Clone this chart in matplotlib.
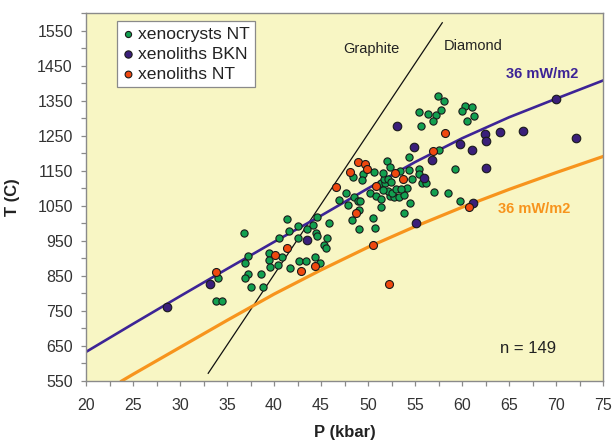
import matplotlib
matplotlib.use("Agg")
import matplotlib.pyplot as plt
from matplotlib.ticker import MultipleLocator

plt.rcParams['font.family'] = ['Liberation Sans', 'DejaVu Sans']

# ---- data (P in kbar, T in C) ----
green_P = [33.8, 34.5, 34.0, 36.8, 37.2, 36.9, 37.2, 36.9, 38.6, 37.5, 38.8,
           41.4, 42.6, 41.6, 40.5, 39.5, 39.5, 39.6, 40.4, 40.9, 41.7, 42.7,
           43.4, 44.4, 44.9, 42.5, 43.5, 44.2, 44.6, 44.5, 44.6, 45.9, 45.6,
           45.3, 45.5, 46.9, 47.7, 47.9, 48.5, 48.9, 49.2, 48.3, 49.0, 49.0,
           50.2, 50.8, 51.4, 50.5, 50.7, 51.4, 52.3, 52.8, 53.3, 53.8, 52.1,
           52.6, 53.0, 54.1, 51.4, 51.8, 51.7, 52.1, 51.6, 50.6, 49.5, 48.4,
           49.4, 52.0, 52.3, 53.4, 54.4, 55.4, 55.4, 54.7, 55.7, 56.2, 54.4,
           57.5, 59.3, 57.0, 58.5, 59.8, 54.5, 53.8, 57.4, 58.1, 55.4, 56.4,
           57.2, 57.8, 56.9, 55.6, 60.3, 61.1, 60.0, 61.3, 60.5, 51.6, 53.5,
           52.4]
green_T = [778, 777, 843, 972, 907, 888, 855, 845, 856, 817, 819,
           1012, 993, 978, 957, 916, 895, 875, 880, 903, 872, 892,
           892, 904, 886, 959, 983, 995, 1017, 974, 964, 1000, 959,
           937, 929, 1066, 1088, 1052, 1074, 1064, 1064, 1011, 984, 1039,
           1086, 1079, 1071, 1016, 987, 1047, 1078, 1074, 1074, 1080, 1093,
           1086, 1099, 1101, 1116, 1116, 1128, 1128, 1143, 1146, 1140, 1133,
           1123, 1179, 1161, 1150, 1152, 1154, 1141, 1126, 1116, 1116, 1190,
           1211, 1154, 1090, 1086, 1064, 1058, 1031, 1364, 1349, 1317, 1312,
           1309, 1325, 1292, 1278, 1335, 1333, 1321, 1306, 1291, 1096, 1099,
           1118]

purple_P = [28.6, 33.2, 43.5, 53.1, 54.9, 56.8, 56.0, 55.1, 59.8, 61.1,
            62.4, 62.6, 64.0, 66.5, 70.0, 72.1, 62.6, 61.2]
purple_T = [762, 828, 953, 1277, 1218, 1180, 1131, 1002, 1227, 1211,
            1254, 1235, 1262, 1263, 1355, 1245, 1159, 1057]

red_P = [33.8, 40.1, 41.4, 42.9, 44.4, 46.6, 48.7, 48.9, 49.7, 49.9,
         48.1, 52.9, 53.7, 50.8, 50.5, 52.2, 56.9, 58.2, 60.7]
red_T = [862, 910, 929, 865, 879, 1104, 1031, 1176, 1169, 1154,
         1147, 1143, 1127, 1108, 937, 827, 1206, 1257, 1048]

geo_bkn_P = [20, 25, 30, 35, 40, 45, 50, 55, 60, 65, 70, 75]
geo_bkn_T = [633, 713, 792, 870, 947, 1022, 1100, 1175, 1243, 1303, 1356, 1408]

geo_nt_P = [23.8, 25, 30, 35, 40, 45, 50, 55, 60, 65, 70, 75]
geo_nt_T = [550, 569, 646, 723, 798, 867, 932, 991, 1046, 1097, 1145, 1191]

gd_P = [33.0, 57.9]
gd_T = [572, 1573]

labels = ["xenocrysts NT", "xenoliths BKN", "xenoliths NT"]

# ---- colours ----
c_green = "#12A050"
c_purple = "#3A1F7A"
c_red = "#F0480F"
c_line_purple = "#3D2496"
c_line_orange = "#F7941D"
bg = "#F8F6C4"

fig = plt.figure(figsize=(6.13, 4.43), dpi=100)
ax = fig.add_axes([0.1403, 0.140, 0.8434, 0.830])
ax.set_facecolor(bg)

ax.plot(gd_P, gd_T, color="#111111", lw=0.9, zorder=2)
ax.plot(geo_bkn_P, geo_bkn_T, color=c_line_purple, lw=1.9, zorder=2)
ax.plot(geo_nt_P, geo_nt_T, color=c_line_orange, lw=2.3, zorder=2)

ax.scatter(green_P, green_T, s=27, c=c_green, edgecolors="#1a1a1a",
           linewidths=0.8, zorder=3, label=labels[0])
ax.scatter(purple_P, purple_T, s=38, c=c_purple, edgecolors="#1a1a1a",
           linewidths=0.8, zorder=4, label=labels[1])
ax.scatter(red_P, red_T, s=33, c=c_red, edgecolors="#1a1a1a",
           linewidths=0.8, zorder=5, label=labels[2])

ax.set_xlim(20, 75)
ax.set_ylim(550, 1600)
ax.xaxis.set_major_locator(MultipleLocator(5))
ax.xaxis.set_minor_locator(MultipleLocator(2.5))
ax.set_yticks(list(range(550, 1551, 100)))
ax.yaxis.set_minor_locator(MultipleLocator(50))

for s in ax.spines.values():
    s.set_color("#8a8a8a")
    s.set_linewidth(1.0)
ax.tick_params(which="both", direction="out", length=3.5, width=0.9,
               color="#8a8a8a", labelcolor="#333333", labelsize=11.5)
ax.tick_params(axis="x", which="both", pad=9)
ax.tick_params(axis="y", which="both", pad=6)

ax.set_xlabel("P (kbar)", fontsize=12, fontweight="bold", color="#222222")
ax.set_ylabel("T (C)", fontsize=12, fontweight="bold", color="#222222")
ax.xaxis.set_label_coords(0.5, -0.139)
ax.xaxis.label.set_va("center")
ax.yaxis.set_label_coords(-0.143, 0.5)
ax.yaxis.label.set_va("center")

ax.text(50.4, 1497, "Graphite", fontsize=10.5, color="#222222",
        ha="center", va="center")
ax.text(61.2, 1506, "Diamond", fontsize=10.5, color="#222222",
        ha="center", va="center")
ax.text(68.5, 1426, "36 mW/m2", fontsize=10.5, fontweight="bold",
        color=c_line_purple, ha="center", va="center")
ax.text(67.7, 1041, "36 mW/m2", fontsize=10.5, fontweight="bold",
        color=c_line_orange, ha="center", va="center")
ax.text(67.0, 644, "n = 149", fontsize=12, color="#222222",
        ha="center", va="center")

leg = ax.legend(loc="upper left", bbox_to_anchor=(0.06, 0.979),
                fontsize=12.6, frameon=True, fancybox=False, framealpha=1,
                edgecolor="#8a8a8a", facecolor="white", borderpad=0.3,
                labelspacing=0.28, handlelength=0.6, handletextpad=0.3,
                borderaxespad=0, markerscale=0.85)
leg.get_frame().set_linewidth(0.9)
for t in leg.get_texts():
    t.set_color("#222222")

fig.savefig("out.png", dpi=100, facecolor="white")
